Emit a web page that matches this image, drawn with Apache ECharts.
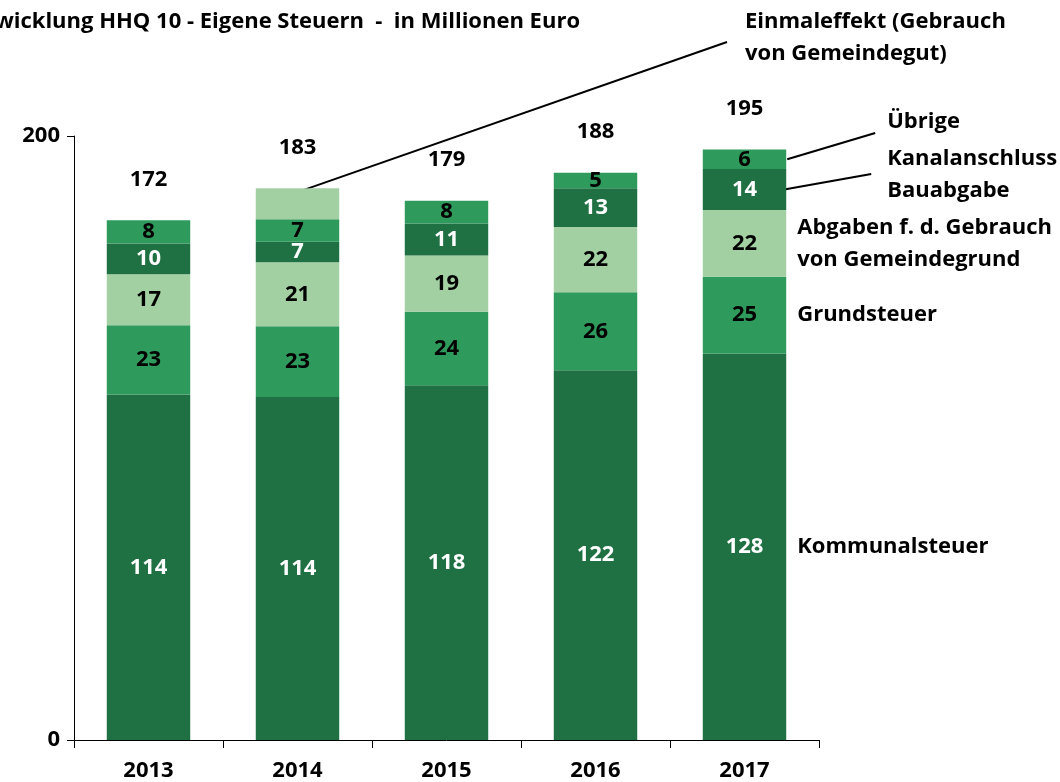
<!DOCTYPE html>
<html>
<head>
<meta charset="utf-8">
<script src="https://cdn.jsdelivr.net/npm/echarts@6/dist/echarts.min.js"></script>
<style>
  html, body { margin: 0; background: #fff; }
  #chart { width: 1060px; height: 782px; }
</style>
</head>
<body>
<div id="chart"></div>
<script>
// values (labels show them rounded)
var years = ['2013', '2014', '2015', '2016', '2017']
var kommunalsteuer = [114.4, 113.6, 117.5, 122.4, 128.0]
var grundsteuer = [22.9, 23.4, 24.3, 25.9, 25.4]
var abgaben = [16.9, 21.2, 18.6, 21.6, 22.1]
var kanalanschluss = [10.2, 6.8, 10.6, 12.8, 13.6]
var uebrige = [7.7, 7.4, 7.6, 5.1, 6.4]
var einmaleffekt = [0, 10.3, 0, 0, 0]
var totals = [172, 183, 179, 188, 195]

var dark = '#1F7144'
var medium = '#2E9A5C'
var light = '#A3D0A3'
var font = 'Open Sans'

// stack height of each year (only used to put the total label on top)
var stackTop = years.map(function (y, i) {
  return kommunalsteuer[i] + grundsteuer[i] + abgaben[i] + kanalanschluss[i] + uebrige[i] + einmaleffekt[i]
})

function seg(name, data, color, textColor, showLabel) {
  return {
    name: name,
    type: 'bar',
    stack: 'total',
    barWidth: '56%',
    data: data,
    itemStyle: { color: color },
    label: {
      show: showLabel,
      position: 'inside',
      color: textColor,
      fontFamily: font,
      fontWeight: 'bold',
      fontSize: 22,
      formatter: function (p) { return p.value ? Math.round(p.value) : '' }
    }
  }
}

var myChart = echarts.init(document.getElementById('chart'))
myChart.setOption({
  animation: false,
  grid: { left: 74, right: 241, top: 136, bottom: 42 },
  xAxis: {
    type: 'category',
    data: years,
    axisLine: { lineStyle: { color: '#000', width: 1 } },
    axisTick: { show: true, length: 8, lineStyle: { color: '#000' } },
    axisLabel: { color: '#000', fontFamily: font, fontWeight: 'bold', fontSize: 22, margin: 20 }
  },
  yAxis: {
    type: 'value',
    min: 0,
    max: 200,
    interval: 200,
    axisLine: { show: true, lineStyle: { color: '#000', width: 1 } },
    axisTick: { show: true, length: 7, lineStyle: { color: '#000' } },
    splitLine: { show: false },
    axisLabel: { color: '#000', fontFamily: font, fontWeight: 'bold', fontSize: 22, margin: 14 }
  },
  series: [
    seg('Kommunalsteuer', kommunalsteuer, dark, '#fff', true),
    seg('Grundsteuer', grundsteuer, medium, '#000', true),
    seg('Abgaben f. d. Gebrauch von Gemeindegrund', abgaben, light, '#000', true),
    seg('Kanalanschluss Bauabgabe', kanalanschluss, dark, '#fff', true),
    seg('Übrige', uebrige, medium, '#000', true),
    seg('Einmaleffekt (Gebrauch von Gemeindegut)', einmaleffekt, light, '#000', false),
    {
      name: 'Summe',
      type: 'scatter',
      symbolSize: 0,
      data: stackTop,
      itemStyle: { opacity: 1 },
      label: {
        show: true,
        position: 'top',
        offset: [0, -25],
        color: '#000',
        fontFamily: font,
        fontWeight: 'bold',
        fontSize: 22,
        formatter: function (p) { return totals[p.dataIndex] }
      }
    }
  ]
})

// annotations on the right, anchored to the 2017 bar
var last = years.length - 1
function px(cat, v) { return myChart.convertToPixel({ gridIndex: 0 }, [cat, v]) }
var catW = px(years[1], 0)[0] - px(years[0], 0)[0]
var barRight = px(years[last], 0)[0] + catW * 0.56 / 2
var c0 = kommunalsteuer[last]
var c1 = c0 + grundsteuer[last]
var c2 = c1 + abgaben[last]
var c3 = c2 + kanalanschluss[last]
var c4 = c3 + uebrige[last]

var txtStyle = { fill: '#000', font: 'bold 22px "' + font + '"', textVerticalAlign: 'middle', lineHeight: 32 }
function txt(x, y, s) {
  return { type: 'text', style: Object.assign({ x: x, y: y, text: s }, txtStyle) }
}
function line(x1, y1, x2, y2) {
  return { type: 'line', shape: { x1: x1, y1: y1, x2: x2, y2: y2 }, style: { stroke: '#000', lineWidth: 2 } }
}

var yKomm = px(years[last], c0 / 2)[1]
var yGrund = px(years[last], (c0 + c1) / 2)[1]
var yAbg = px(years[last], (c1 + c2) / 2)[1]
var yKanal = px(years[last], (c2 + c3) / 2)[1]
var yUeb = px(years[last], (c3 + c4) / 2)[1]
var einm = px(years[1], stackTop[1] - 1.3)

myChart.setOption({
  graphic: [
    { type: 'text', style: { x: 580, y: 22, text: 'Entwicklung HHQ 10 - Eigene Steuern  -  in Millionen Euro', fill: '#000', font: 'bold 22px "' + font + '"', textAlign: 'right', textVerticalAlign: 'middle' } },
    txt(barRight + 11, yKomm, 'Kommunalsteuer'),
    txt(barRight + 11, yGrund, 'Grundsteuer'),
    txt(barRight + 11, yAbg, 'Abgaben f. d. Gebrauch\nvon Gemeindegrund'),
    txt(barRight + 101, 175, 'Kanalanschluss\nBauabgabe'),
    txt(barRight + 101, 122, 'Übrige'),
    txt(745, 38, 'Einmaleffekt (Gebrauch\nvon Gemeindegut)'),
    line(barRight + 1, yUeb, barRight + 89, 133),
    line(barRight - 2, yKanal, barRight + 85, 174),
    line(einm[0], einm[1], 727, 42)
  ]
})
</script>
</body>
</html>
